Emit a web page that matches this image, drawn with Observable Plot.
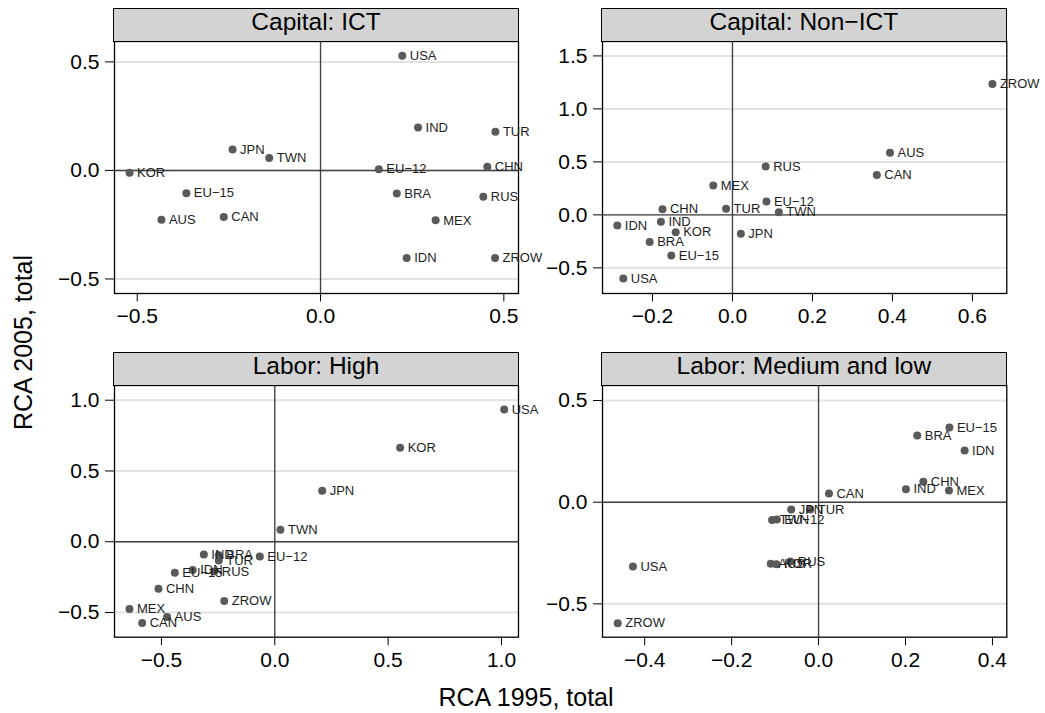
<!DOCTYPE html>
<html>
<head>
<meta charset="utf-8">
<script src="https://cdn.jsdelivr.net/npm/d3@7"></script>
<script src="https://cdn.jsdelivr.net/npm/@observablehq/plot@0.6"></script>
<style>
  body { margin: 0; background: #fff; }
  #chart { position: relative; width: 1045px; height: 713px; background: #fff;
           font-family: "Liberation Sans", Arial, Helvetica, sans-serif; overflow: hidden; }
  .strip { position: absolute; box-sizing: border-box; background: #d3d3d3;
           border: 1.3px solid #000; text-align: center; font-size: 24.5px;
           line-height: 25px; color: #000; white-space: nowrap; }
  .panel { position: absolute; }
  .title { position: absolute; font-size: 25px; line-height: 25px; height: 25px;
           text-align: center; white-space: nowrap; color: #000; }
</style>
</head>
<body>
<div id="chart"></div>
<script>
// Countries / regions (same order in every panel)
const countries = ["AUS", "BRA", "CAN", "CHN", "EU−12", "EU−15", "IDN", "IND",
                   "JPN", "KOR", "MEX", "RUS", "TUR", "TWN", "USA", "ZROW"];

// Revealed comparative advantage, 1995 (x) and 2005 (y), by factor
const ictRCA1995 = [-0.434, 0.208, -0.264, 0.455, 0.159, -0.366, 0.235, 0.266,
                    -0.240, -0.521, 0.314, 0.444, 0.477, -0.140, 0.223, 0.476];
const ictRCA2005 = [-0.227, -0.106, -0.214, 0.017, 0.006, -0.105, -0.404, 0.198,
                    0.097, -0.011, -0.230, -0.121, 0.178, 0.057, 0.528, -0.404];

const nonIctRCA1995 = [0.394, -0.207, 0.361, -0.175, 0.085, -0.153, -0.288, -0.179,
                       0.021, -0.142, -0.048, 0.083, -0.016, 0.116, -0.273, 0.650];
const nonIctRCA2005 = [0.585, -0.255, 0.377, 0.053, 0.126, -0.384, -0.101, -0.066,
                       -0.179, -0.164, 0.277, 0.456, 0.057, 0.025, -0.601, 1.236];

const highRCA1995 = [-0.475, -0.247, -0.585, -0.513, -0.066, -0.441, -0.362, -0.313,
                     0.209, 0.553, -0.641, -0.267, -0.247, 0.025, 1.012, -0.223];
const highRCA2005 = [-0.532, -0.095, -0.575, -0.332, -0.104, -0.219, -0.200, -0.090,
                     0.360, 0.664, -0.476, -0.210, -0.132, 0.085, 0.934, -0.419];

const medLowRCA1995 = [-0.110, 0.227, 0.024, 0.241, -0.096, 0.301, 0.336, 0.201,
                       -0.063, -0.097, 0.300, -0.065, -0.019, -0.107, -0.427, -0.462];
const medLowRCA2005 = [-0.303, 0.328, 0.043, 0.100, -0.085, 0.367, 0.254, 0.064,
                       -0.036, -0.305, 0.058, -0.292, -0.036, -0.088, -0.316, -0.595];

// Panel titles and tick values
const panelTitles = ["Capital: ICT", "Capital: Non−ICT", "Labor: High", "Labor: Medium and low"];
const xTickSets = [[-0.5, 0, 0.5], [-0.2, 0, 0.2, 0.4, 0.6], [-0.5, 0, 0.5, 1.0], [-0.4, -0.2, 0, 0.2, 0.4]];
const yTickSets = [[-0.5, 0, 0.5], [-0.5, 0, 0.5, 1.0, 1.5], [-0.5, 0, 0.5, 1.0], [-0.5, 0, 0.5]];
const xSeries = [ictRCA1995, nonIctRCA1995, highRCA1995, medLowRCA1995];
const ySeries = [ictRCA2005, nonIctRCA2005, highRCA2005, medLowRCA2005];

// Panel geometry: frame box in page pixels plus each panel's scale extent
const layout = [
  { left: 114,   top: 41.3, w: 404,   h: 252,   stripTop: 8.3,   xDomain: [-0.562, 0.540], yDomain: [-0.567, 0.594] },
  { left: 601.7, top: 41.3, w: 404.3, h: 252,   stripTop: 8.3,   xDomain: [-0.325, 0.686], yDomain: [-0.742, 1.636] },
  { left: 114,   top: 385,  w: 404,   h: 251.7, stripTop: 352.3, xDomain: [-0.707, 1.075], yDomain: [-0.6745, 1.104] },
  { left: 601.7, top: 385,  w: 404.3, h: 251.7, stripTop: 352.3, xDomain: [-0.497, 0.433], yDomain: [-0.664, 0.574] }
];

const chart = document.getElementById("chart");
const fmt = d3.format(".1f");
const ML = 100, MR = 48, MT = 10, MB = 45;

layout.forEach((g, p) => {
  const rows = countries.map((name, i) => ({ name, x: xSeries[p][i], y: ySeries[p][i] }));

  const svg = Plot.plot({
    width: ML + g.w + MR,
    height: MT + g.h + MB,
    marginLeft: ML, marginRight: MR, marginTop: MT, marginBottom: MB,
    style: { fontFamily: "'Liberation Sans', Arial, Helvetica, sans-serif", fontSize: "21px",
             background: "transparent", overflow: "visible", color: "#000" },
    x: { domain: g.xDomain, ticks: xTickSets[p], tickSize: 8.5, tickPadding: 6, tickFormat: fmt, label: null },
    y: { domain: g.yDomain, ticks: yTickSets[p], tickSize: 9, tickPadding: 6, tickFormat: fmt, label: null },
    marks: [
      Plot.ruleY(yTickSets[p], { stroke: "#e2e2e2", strokeWidth: 2 }),
      Plot.ruleX([0], { stroke: "#444", strokeWidth: 1.4 }),
      Plot.ruleY([0], { stroke: "#444", strokeWidth: 1.4 }),
      Plot.frame({ stroke: "#000", strokeWidth: 1.3 }),
      Plot.dot(rows, { x: "x", y: "y", r: 4, fill: "#5a5a5a", stroke: "none" }),
      Plot.text(rows, { x: "x", y: "y", text: "name", dx: 7.5, textAnchor: "start",
                        fontSize: 13, fill: "#1e1e1e" })
    ]
  });
  svg.classList.add("panel");
  svg.style.left = (g.left - ML) + "px";
  svg.style.top = (g.top - MT) + "px";
  svg.style.maxWidth = "none";
  chart.appendChild(svg);

  // Strip header above the panel
  const strip = document.createElement("div");
  strip.className = "strip";
  strip.style.left = (g.left - 0.65) + "px";
  strip.style.top = g.stripTop + "px";
  strip.style.width = (g.w + 1.3) + "px";
  strip.style.height = (g.top + 0.65 - g.stripTop) + "px";
  strip.textContent = panelTitles[p];
  chart.appendChild(strip);
});

// Shared axis titles
const xTitle = document.createElement("div");
xTitle.className = "title";
xTitle.style.left = (526 - 200) + "px";
xTitle.style.width = "400px";
xTitle.style.top = "684.8px";
xTitle.textContent = "RCA 1995, total";
chart.appendChild(xTitle);

const yTitle = document.createElement("div");
yTitle.className = "title";
yTitle.style.left = (23.3 - 150) + "px";
yTitle.style.width = "300px";
yTitle.style.top = (342.5 - 12.5) + "px";
yTitle.style.transform = "rotate(-90deg)";
yTitle.textContent = "RCA 2005, total";
chart.appendChild(yTitle);
</script>
</body>
</html>
